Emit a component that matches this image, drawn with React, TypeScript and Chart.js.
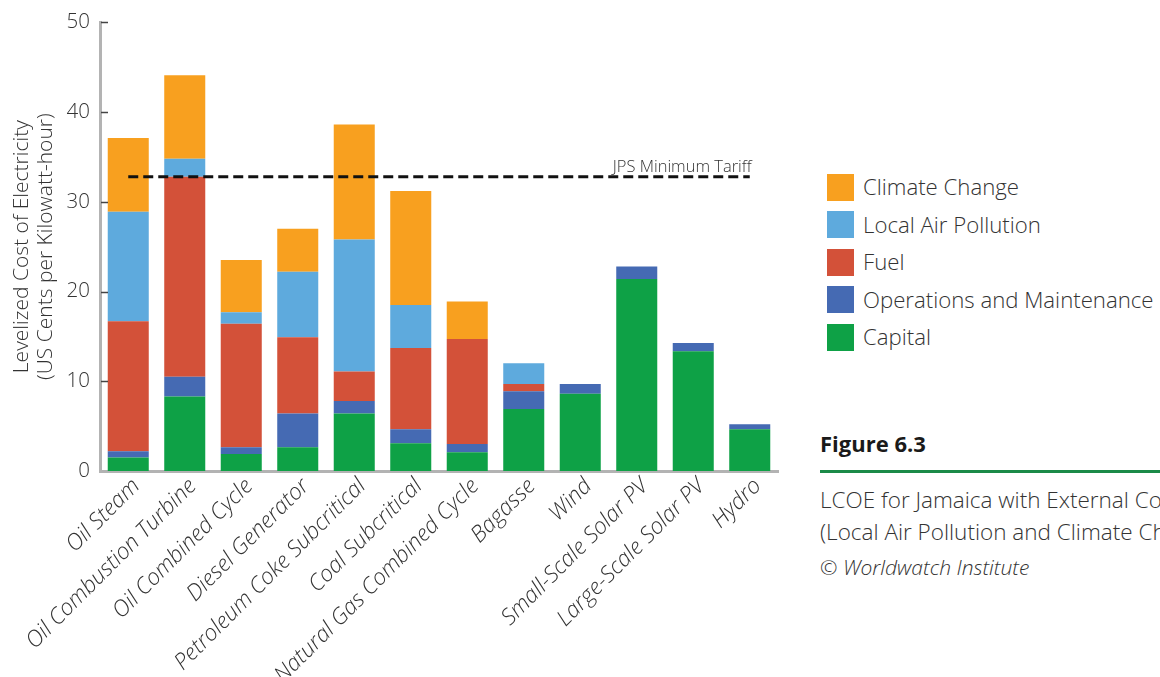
import React, { useEffect, useRef } from "react";
import { Chart, registerables } from "chart.js";

Chart.register(...registerables);

const categories = [
  "Oil Steam",
  "Oil Combustion Turbine",
  "Oil Combined Cycle",
  "Diesel Generator",
  "Petroleum Coke Subcritical",
  "Coal Subcritical",
  "Natural Gas Combined Cycle",
  "Bagasse",
  "Wind",
  "Small-Scale Solar PV",
  "Large-Scale Solar PV",
  "Hydro",
];

const capital = [1.5, 8.3, 1.9, 2.65, 6.4, 3.1, 2.1, 6.9, 8.6, 21.4, 13.35, 4.65];
const operations = [0.7, 2.2, 0.75, 3.75, 1.4, 1.55, 0.9, 2.0, 1.1, 1.4, 0.9, 0.55];
const fuel = [14.5, 22.3, 13.75, 8.5, 3.3, 9.05, 11.7, 0.8, 0, 0, 0, 0];
const localAirPollution = [12.2, 2.0, 1.3, 7.3, 14.7, 4.8, 0, 2.3, 0, 0, 0, 0];
const climateChange = [8.2, 9.3, 5.8, 4.8, 12.8, 12.7, 4.2, 0, 0, 0, 0, 0];

const tariffValue = 32.8;
const tariffLabel = "JPS Minimum Tariff";
const yTicks = [0, 10, 20, 30, 40, 50];

const seriesNames = ["Capital", "Operations and Maintenance", "Fuel", "Local Air Pollution", "Climate Change"];
const seriesColors = ["#0ea146", "#456ab3", "#d35139", "#5eaadd", "#f8a01f"];

const FONT = "'Open Sans', 'Noto Sans', sans-serif";
const TEXT = "#333333";

const innerTicks = {
  id: "innerTicks",
  afterDraw(chart: any) {
    const y = chart.scales.y;
    const ctx = chart.ctx;
    const left = chart.chartArea.left;
    ctx.save();
    ctx.strokeStyle = "#444444";
    ctx.lineWidth = 1.5;
    yTicks.forEach((v) => {
      if (v === 0) return;
      const py = Math.round(y.getPixelForValue(v)) + 0.5;
      ctx.beginPath();
      ctx.moveTo(left + 1, py);
      ctx.lineTo(left + 8, py);
      ctx.stroke();
    });
    ctx.restore();
  },
};

const tariffText = {
  id: "tariffText",
  afterDatasetsDraw(chart: any) {
    const idx = chart.data.datasets.findIndex((d: any) => d.type === "line");
    const meta = chart.getDatasetMeta(idx);
    const pts = meta.data;
    if (!pts || !pts.length) return;
    const last = pts[pts.length - 1];
    const ctx = chart.ctx;
    ctx.save();
    ctx.font = `300 16.5px ${FONT}`;
    ctx.fillStyle = TEXT;
    ctx.textAlign = "right";
    ctx.textBaseline = "alphabetic";
    ctx.fillText(tariffLabel, last.x + 2, last.y - 5);
    ctx.restore();
  },
};

export default function App() {
  const ref = useRef<HTMLCanvasElement>(null);

  useEffect(() => {
    if (!ref.current) return;
    const seriesData = [capital, operations, fuel, localAirPollution, climateChange];
    const chart = new Chart(ref.current, {
      type: "bar",
      data: {
        labels: categories,
        datasets: [
          {
            type: "line",
            label: tariffLabel,
            data: categories.map(() => tariffValue),
            borderColor: "#111111",
            borderWidth: 3,
            borderDash: [10, 5],
            pointRadius: 0,
            fill: false,
            order: 0,
          } as any,
          ...seriesData.map((d, i) => ({
            type: "bar",
            label: seriesNames[i],
            data: d,
            backgroundColor: seriesColors[i],
            borderWidth: 0,
            categoryPercentage: 0.726,
            barPercentage: 1,
            order: 1,
          })),
        ],
      },
      options: {
        responsive: false,
        animation: false,
        devicePixelRatio: 1,
        layout: { padding: { top: 21, right: 22, left: 0, bottom: 0 } },
        plugins: {
          legend: { display: false },
          tooltip: { enabled: false },
        },
        scales: {
          x: {
            stacked: true,
            grid: { display: false, drawTicks: false },
            border: { display: true, color: "#b3b3b3", width: 3 },
            ticks: {
              autoSkip: false,
              minRotation: 45,
              maxRotation: 45,
              padding: 2,
              labelOffset: 8,
              color: TEXT,
              font: { family: FONT, size: 22.5, style: "italic", weight: "300" as any },
            },
            afterFit(scale: any) {
              scale.height = 206;
            },
          },
          y: {
            stacked: true,
            min: 0,
            max: 50,
            grid: { display: false, drawTicks: false },
            border: { display: true, color: "#b3b3b3", width: 3 },
            ticks: {
              stepSize: 10,
              padding: 10,
              color: TEXT,
              font: { family: FONT, size: 20.5, weight: "300" as any },
            },
            title: {
              display: true,
              text: ["Levelized Cost of Electricity", "(US Cents per Kilowatt-hour)"],
              color: TEXT,
              padding: { top: 10, bottom: 0 },
              font: { family: FONT, size: 21, weight: "300" as any, lineHeight: 1.15 },
            },
            afterFit(scale: any) {
              scale.width = 100;
            },
          },
        },
      },
      plugins: [innerTicks, tariffText],
    } as any);
    return () => chart.destroy();
  }, []);

  const legendOrder = [4, 3, 2, 1, 0];

  return (
    <div
      style={{
        position: "fixed",
        left: 0,
        top: 0,
        width: 1160,
        height: 677,
        overflow: "hidden",
        background: "#ffffff",
        fontFamily: FONT,
        color: TEXT,
      }}
    >
      <canvas
        ref={ref}
        width={800}
        height={677}
        style={{ position: "absolute", left: 0, top: 0, width: 800, height: 677 }}
      />
      {legendOrder.map((si, row) => (
        <div
          key={si}
          style={{
            position: "absolute",
            left: 827,
            top: 187 + row * 37.5 - 14,
            height: 28,
            display: "flex",
            alignItems: "center",
            whiteSpace: "nowrap",
          }}
        >
          <div style={{ width: 27, height: 27, background: seriesColors[si], marginRight: 9 }} />
          <span style={{ fontSize: 22.2, fontWeight: 300, lineHeight: "28px" }}>{seriesNames[si]}</span>
        </div>
      ))}
      <div
        style={{
          position: "absolute",
          left: 820,
          top: 429,
          fontSize: 22,
          fontWeight: 700,
          color: "#1a1a1a",
          lineHeight: "28px",
          whiteSpace: "nowrap",
        }}
      >
        Figure 6.3
      </div>
      <div style={{ position: "absolute", left: 820, top: 470, width: 360, height: 3, background: "#1b8a48" }} />
      <div
        style={{
          position: "absolute",
          left: 820,
          top: 484,
          fontSize: 22.5,
          fontWeight: 300,
          lineHeight: "32px",
          whiteSpace: "nowrap",
        }}
      >
        <div>LCOE for Jamaica with External Costs</div>
        <div>(Local Air Pollution and Climate Change)</div>
        <div style={{ fontStyle: "italic", fontSize: 21, marginTop: 3 }}>© Worldwatch Institute</div>
      </div>
    </div>
  );
}
